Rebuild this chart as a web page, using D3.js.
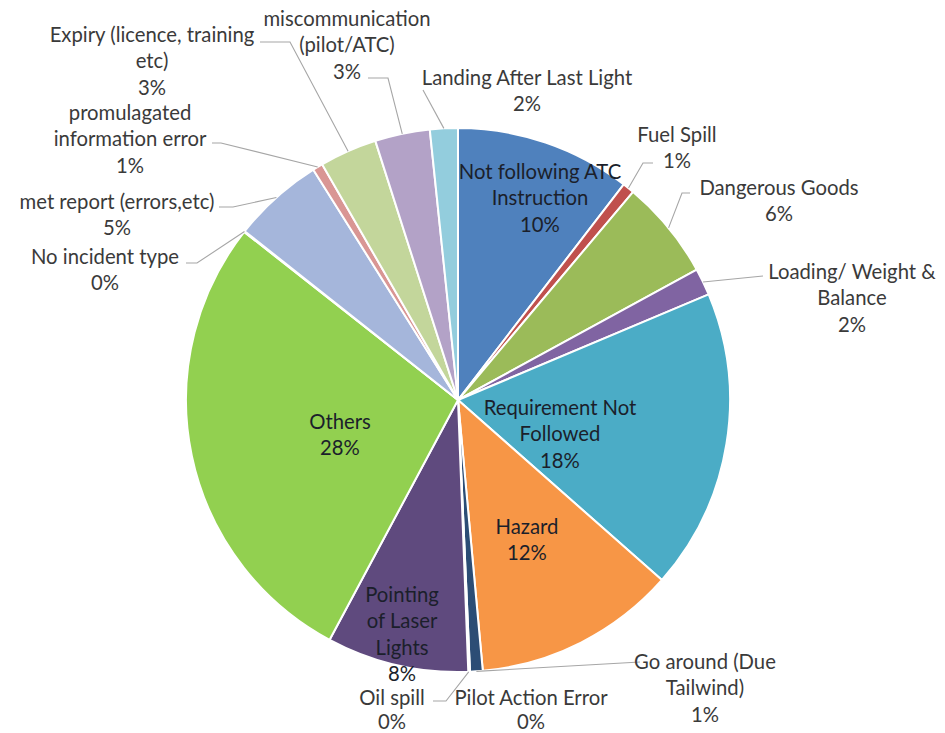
<!DOCTYPE html>
<html>
<head>
<meta charset="utf-8">
<script src="https://cdn.jsdelivr.net/npm/d3@7"></script>
<style>
  html, body { margin: 0; padding: 0; background: #ffffff; }
  svg { display: block; }
</style>
</head>
<body>
<svg id="chart" width="945" height="733"></svg>
<script>
// ---- DATA ----
const categories = [
  "Not following ATC Instruction", "Fuel Spill", "Dangerous Goods",
  "Loading/ Weight & Balance", "Requirement Not Followed", "Hazard",
  "Go around (Due Tailwind)", "Pilot Action Error", "Oil spill",
  "Pointing of Laser Lights", "Others", "No incident type",
  "met report (errors,etc)", "promulagated information error",
  "Expiry (licence, training etc)", "miscommunication (pilot/ATC)",
  "Landing After Last Light"
];
const values = [10.4, 0.7, 5.9, 1.6, 17.8, 12.0, 0.75, 0.05, 0.05, 8.4, 27.7, 0.05, 5.4, 0.6, 3.4, 3.25, 1.65];
const colors = ["#4F81BD", "#C0504D", "#9BBB59", "#8064A2", "#4BACC6", "#F79646",
  "#2C4D75", "#772C2A", "#5F7530", "#5F4A7E", "#92D050", "#E46C0A",
  "#A5B6DB", "#D99694", "#C3D69B", "#B3A2C7", "#93CDDD"];

// ---- LABEL LAYOUT (annotation placement, not data) ----
const labelLayout = [
  {lines: ["Not following ATC", "Instruction"], x: 540, y: 172, inside: true},
  {lines: ["Fuel Spill"], x: 677, y: 135, leader: [[643,163],[653,163]]},
  {lines: ["Dangerous Goods"], x: 779, y: 188, leader: [[682,193],[690,193]]},
  {lines: ["Loading/ Weight &", "Balance"], x: 852, y: 272, leader: [[763,276]]},
  {lines: ["Requirement Not", "Followed"], x: 560, y: 408, inside: true},
  {lines: ["Hazard"], x: 527, y: 527, inside: true},
  {lines: ["Go around (Due", "Tailwind)"], x: 705, y: 662, leader: [[640,662]]},
  {lines: ["Pilot Action Error"], x: 531, y: 698},
  {lines: ["Oil spill"], x: 392, y: 698, leader: [[446,701],[433,701]]},
  {lines: ["Pointing", "of Laser", "Lights"], x: 402, y: 595, inside: true},
  {lines: ["Others"], x: 340, y: 422, inside: true},
  {lines: ["No incident type"], x: 105, y: 257, leader: [[197,263],[186,263]]},
  {lines: ["met report (errors,etc)"], x: 117, y: 202, leader: [[233,207],[219,207]]},
  {lines: ["promulagated", "information error"], x: 130, y: 113, leader: [[221,143],[212,143]]},
  {lines: ["Expiry (licence, training", "etc)"], x: 152, y: 35, leader: [[290,42],[260,42]]},
  {lines: ["miscommunication", "(pilot/ATC)"], x: 347, y: 19, leader: [[388,78],[368,78]]},
  {lines: ["Landing After Last Light"], x: 527, y: 78, leader: [[423,90]]}
];

const W = 945, H = 733;
const cx = 458, cy = 400, R = 272;
const lineH = 26.3;
const svg = d3.select("#chart");

const total = d3.sum(values);
const data = categories.map((c, i) => ({name: c, value: values[i], color: colors[i], layout: labelLayout[i]}));

const pie = d3.pie().value(d => d.value).sort(null).startAngle(0).endAngle(2 * Math.PI);
const arcs = pie(data);
const arc = d3.arc().innerRadius(0).outerRadius(R);

const g = svg.append("g").attr("transform", `translate(${cx},${cy})`);

g.selectAll("path.slice")
  .data(arcs)
  .enter().append("path")
  .attr("class", "slice")
  .attr("d", arc)
  .attr("fill", d => d.data.color)
  .attr("stroke", "#ffffff")
  .attr("stroke-width", 2)
  .attr("stroke-linejoin", "round");

// leader lines
const lineGen = d3.line();
arcs.forEach(a => {
  const L = a.data.layout;
  if (!L.leader) return;
  const mid = (a.startAngle + a.endAngle) / 2;
  const start = [cx + R * Math.sin(mid), cy - R * Math.cos(mid)];
  svg.append("path")
    .attr("d", lineGen([start, ...L.leader]))
    .attr("fill", "none")
    .attr("stroke", "#A6A6A6")
    .attr("stroke-width", 1.1);
});

// labels
arcs.forEach(a => {
  const L = a.data.layout;
  const lines = L.lines.concat([Math.round(a.data.value / total * 100) + "%"]);
  const t = svg.append("text")
    .attr("text-anchor", "middle")
    .attr("font-family", "Lato, 'Open Sans', sans-serif")
    .attr("font-size", 20.3)
    .attr("fill", L.inside ? "#1b1f2b" : "#3a3a3a");
  lines.forEach((s, k) => {
    t.append("tspan")
      .attr("x", L.x)
      .attr("y", L.y + k * (L.y >= 690 ? 24 : lineH))
      .attr("dy", "0.35em")
      .text(s);
  });
});
</script>
</body>
</html>
